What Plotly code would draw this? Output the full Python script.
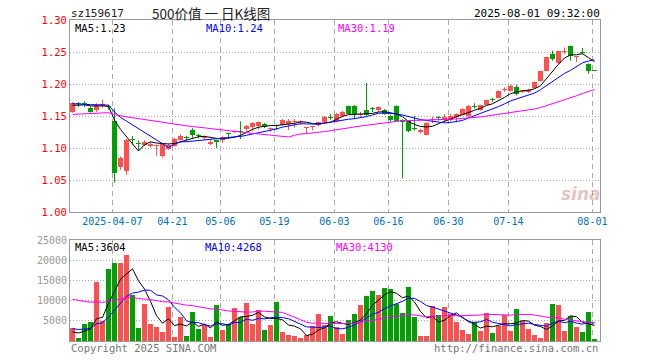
import plotly.graph_objects as go
import pandas as pd

# ---------------- data ----------------
symbol = "sz159617"
chart_title = "500价值 一 日K线图"
timestamp = "2025-08-01 09:32:00"

holidays = ["2025-04-04", "2025-05-01", "2025-05-02", "2025-05-05", "2025-06-02"]
dates = [d.strftime("%Y-%m-%d") for d in pd.bdate_range("2025-03-26", "2025-08-01")
         if d.strftime("%Y-%m-%d") not in holidays]

open_ = [1.157, 1.1695, 1.169, 1.1625, 1.159, 1.165, 1.166, 1.1416, 1.071, 1.0635,
         1.114, 1.107, 1.105, 1.103, 1.1025, 1.087, 1.099, 1.103, 1.113, 1.117,
         1.1286, 1.120, 1.116, 1.1067, 1.112, 1.112, 1.1235, 1.1245, 1.1255, 1.1297,
         1.1328, 1.1349, 1.138, 1.129, 1.1355, 1.1364, 1.137, 1.140, 1.140, 1.1305,
         1.1325, 1.136, 1.140, 1.1485, 1.1416, 1.150, 1.165, 1.166, 1.151, 1.1597,
         1.1615, 1.1588, 1.160, 1.1505, 1.165, 1.1442, 1.1416, 1.131, 1.1244, 1.1207,
         1.1445, 1.148, 1.1442, 1.1442, 1.148, 1.152, 1.150, 1.165, 1.160, 1.1676,
         1.1755, 1.178, 1.1901, 1.1895, 1.1958, 1.188, 1.1874, 1.1937, 1.2052, 1.2208,
         1.2468, 1.2328, 1.2505, 1.2599, 1.2422, 1.249, 1.2312, 1.221]
high = [1.172, 1.172, 1.173, 1.165, 1.170, 1.1755, 1.168, 1.162, 1.087, 1.1145,
        1.119, 1.112, 1.112, 1.109, 1.105, 1.108, 1.107, 1.116, 1.121, 1.119,
        1.131, 1.122, 1.119, 1.113, 1.113, 1.118, 1.1245, 1.127, 1.1416, 1.136,
        1.140, 1.1416, 1.139, 1.132, 1.137, 1.1453, 1.1453, 1.145, 1.143, 1.1315,
        1.134, 1.141, 1.150, 1.153, 1.155, 1.158, 1.166, 1.167, 1.156, 1.2015,
        1.164, 1.165, 1.161, 1.152, 1.1666, 1.145, 1.143, 1.150, 1.130, 1.140,
        1.149, 1.1495, 1.153, 1.1536, 1.154, 1.162, 1.1675, 1.170, 1.1677, 1.1755,
        1.178, 1.190, 1.1947, 1.199, 1.199, 1.1895, 1.1926, 1.204, 1.2208, 1.2427,
        1.252, 1.252, 1.257, 1.260, 1.2432, 1.2562, 1.232, 1.221]
low = [1.155, 1.164, 1.164, 1.155, 1.156, 1.1625, 1.160, 1.046, 1.066, 1.058,
       1.105, 1.097, 1.103, 1.101, 1.088, 1.085, 1.097, 1.102, 1.112, 1.112,
       1.116, 1.115, 1.113, 1.1045, 1.100, 1.108, 1.1155, 1.1235, 1.114, 1.125,
       1.127, 1.129, 1.131, 1.1255, 1.128, 1.135, 1.128, 1.132, 1.136, 1.1225,
       1.1275, 1.134, 1.139, 1.144, 1.140, 1.148, 1.153, 1.145, 1.149, 1.150,
       1.156, 1.157, 1.152, 1.141, 1.1416, 1.0526, 1.1245, 1.127, 1.1223, 1.1197,
       1.139, 1.143, 1.1416, 1.1416, 1.140, 1.151, 1.148, 1.1614, 1.158, 1.1666,
       1.172, 1.177, 1.1874, 1.1885, 1.182, 1.186, 1.186, 1.1926, 1.204, 1.2197,
       1.2364, 1.231, 1.2468, 1.2364, 1.2343, 1.2463, 1.216, 1.220]
close = [1.170, 1.168, 1.168, 1.157, 1.167, 1.169, 1.164, 1.061, 1.084, 1.113,
         1.112, 1.106, 1.110, 1.107, 1.1035, 1.106, 1.105, 1.114, 1.119, 1.116,
         1.121, 1.118, 1.117, 1.110, 1.109, 1.117, 1.1225, 1.1255, 1.1245, 1.1338,
         1.139, 1.140, 1.1325, 1.130, 1.134, 1.1442, 1.1426, 1.142, 1.1415, 1.1315,
         1.1335, 1.140, 1.149, 1.1475, 1.1536, 1.157, 1.1536, 1.152, 1.152, 1.152,
         1.161, 1.1645, 1.1536, 1.1442, 1.1426, 1.140, 1.127, 1.130, 1.1286, 1.139,
         1.1455, 1.147, 1.149, 1.1505, 1.153, 1.161, 1.166, 1.164, 1.1666, 1.1744,
         1.1745, 1.1885, 1.1911, 1.1963, 1.1843, 1.1888, 1.191, 1.2025, 1.2197, 1.2416,
         1.2395, 1.251, 1.2515, 1.2432, 1.2432, 1.248, 1.2197, 1.2205]
volume = [3330, 670, 4170, 4750, 14670, 5000, 17900, 19400, 19400, 21170,
          11400, 3170, 9170, 4170, 3420, 2170, 8420, 920, 5920, 1170,
          7170, 2920, 3920, 920, 8920, 2670, 4170, 8170, 5920, 9420,
          4170, 7670, 2670, 3920, 9670, 2170, 1420, 1170, 670, 1420,
          3670, 6670, 3920, 6170, 3420, 1670, 5170, 6670, 8920, 11170,
          12420, 11420, 13170, 12920, 9170, 6920, 13420, 5920, 1170, 1170,
          8670, 6420, 8420, 6670, 4670, 2670, 1670, 4670, 2420, 6920,
          1920, 3670, 6420, 2420, 7920, 4920, 2920, 1420, 670, 4420,
          9170, 8920, 2420, 6170, 3420, 2170, 7170, 420]

tick_dates = ["2025-04-07", "2025-04-21", "2025-05-06", "2025-05-19", "2025-06-03",
              "2025-06-16", "2025-06-30", "2025-07-14", "2025-08-01"]
tick_labels = ["2025-04-07", "04-21", "05-06", "05-19", "06-03",
               "06-16", "06-30", "07-14", "08-01"]

ma_periods = [5, 10, 30]
price_ma_start = [1.1666, 1.1692, 1.1525]   # MA values read at the first bar
vol_ma_start = [2250, 3080, 10330]
price_ma_text = ["1.23", "1.24", "1.19"]
vol_ma_text = ["3604", "4268", "4130"]

price_ticks = [1.00, 1.05, 1.10, 1.15, 1.20, 1.25, 1.30]
vol_ticks = [5000, 10000, 15000, 20000, 25000]

# ---------------- styles ----------------
UP = "#ff5050"
DOWN = "#00a000"
MA_COLORS = ["#000000", "#0000ff", "#ff00ff"]
MONO = "DejaVu Sans Mono"
GRID = "#aaaaaa"
FRAME = "#999999"

W, H = 660, 360
ML, MR, MT, MB = 70, 60, 20, 19
PW, PH = W - ML - MR, H - MT - MB


def seeded_ma(vals, n, start):
    pad = (n * start - vals[0]) / (n - 1)
    ext = [pad] * (n - 1) + list(vals)
    return [sum(ext[i:i + n]) / n for i in range(len(vals))]


idx = list(range(len(dates)))
up = [c >= o for o, c in zip(open_, close)]
colors = [UP if u else DOWN for u in up]

fig = go.Figure()

# wicks
for flag, col in [(True, UP), (False, DOWN)]:
    wx, wy = [], []
    for i in idx:
        if up[i] == flag:
            wx += [i, i, None]
            wy += [low[i], high[i], None]
    fig.add_trace(go.Scatter(x=wx, y=wy, mode="lines", line=dict(color=col, width=1),
                             hoverinfo="skip", showlegend=False, xaxis="x", yaxis="y"))

# bodies
body_base = [min(o, c) for o, c in zip(open_, close)]
body_h = [max(abs(c - o), 0.0016) for o, c in zip(open_, close)]
fig.add_trace(go.Bar(x=idx, y=body_h, base=body_base, width=5 / 6,
                     marker=dict(color=colors, line=dict(width=0)),
                     showlegend=False, xaxis="x", yaxis="y"))

# price MAs
for n, s, col in zip(ma_periods, price_ma_start, MA_COLORS):
    fig.add_trace(go.Scatter(x=idx, y=seeded_ma(close, n, s), mode="lines",
                             line=dict(color=col, width=1), showlegend=False,
                             xaxis="x", yaxis="y"))

# volume
fig.add_trace(go.Bar(x=idx, y=volume, width=5 / 6,
                     marker=dict(color=colors, line=dict(width=0)),
                     showlegend=False, xaxis="x2", yaxis="y2"))
for n, s, col in zip(ma_periods, vol_ma_start, MA_COLORS):
    fig.add_trace(go.Scatter(x=idx, y=seeded_ma(volume, n, s), mode="lines",
                             line=dict(color=col, width=1), showlegend=False,
                             xaxis="x2", yaxis="y2"))

tickpos = [dates.index(d) - 0.35 for d in tick_dates]
xr = [-2.5 / 6, -2.5 / 6 + PW / 6]

xcommon = dict(range=xr, tickmode="array", tickvals=tickpos, showgrid=True,
               gridcolor=GRID, griddash="5px,4px", gridwidth=1, zeroline=False,
               showline=True, mirror=True, linecolor=FRAME, linewidth=1, ticks="")

price_dom = [1 - 192 / PH, 1]
vol_dom = [0, 1 - 220 / PH]

fig.update_layout(
    width=W, height=H, margin=dict(l=ML, r=MR, t=MT, b=MB, autoexpand=False),
    paper_bgcolor="white", plot_bgcolor="white", barmode="overlay",
    showlegend=False, bargap=0,
    xaxis=dict(**xcommon, ticktext=tick_labels, showticklabels=True,
               tickfont=dict(family=MONO, size=10, color="#0070c0"), anchor="y"),
    yaxis=dict(domain=price_dom, range=[1.00, 1.30], tickmode="array",
               tickvals=price_ticks, ticktext=[f"{v:.2f}" for v in price_ticks],
               tickfont=dict(family=MONO, size=10.5, color="#ff0000"),
               showgrid=True, gridcolor=GRID, griddash="1px,2px", gridwidth=1,
               zeroline=False, showline=True, mirror=True, linecolor=FRAME,
               linewidth=1, ticks="", anchor="x"),
    xaxis2=dict(**xcommon, showticklabels=False, anchor="y2", matches="x"),
    yaxis2=dict(domain=vol_dom, range=[0, 25000], tickmode="array",
                tickvals=vol_ticks, ticktext=[str(v) for v in vol_ticks],
                tickfont=dict(family=MONO, size=10, color="#999999"),
                showgrid=True, gridcolor=GRID, griddash="1px,2px", gridwidth=1,
                zeroline=False, showline=True, mirror=True, linecolor=FRAME,
                linewidth=1, ticks="", anchor="x2"),
)


def px(x):
    return (x - ML) / PW


def py(y):
    return (H - MB - y) / PH


ann = []


def add_text(text, x, y, anchor, color, size, family=MONO, **kw):
    ann.append(dict(text=text, x=px(x), y=py(y), xref="paper", yref="paper",
                    xanchor=anchor, yanchor="middle", showarrow=False,
                    font=dict(family=family, size=size, color=color), **kw))


add_text(symbol, 69, 13, "left", "#222222", 11)
add_text(chart_title.replace(" ", "\u00a0"), 150, 13, "left", "#222222", 13.5,
         family="Noto Sans CJK SC")
add_text(timestamp, 602, 13, "right", "#000000", 11)

price_x = [73, 204, 336]
vol_x = [73, 203, 334]
for i, n in enumerate(ma_periods):
    add_text(f"MA{n}:{price_ma_text[i]}", price_x[i], 28, "left", MA_COLORS[i], 10.5)
    add_text(f"MA{n}:{vol_ma_text[i]}", vol_x[i], 247, "left", MA_COLORS[i], 10.5)

add_text("Copyright 2025 SINA.COM", 69, 348, "left", "#777777", 10.5)
add_text("http://finance.sina.com.cn", 600, 348, "right", "#777777", 10.5)
add_text("<b><i>sina</i></b>", 581, 194, "center", "rgba(200,120,120,0.45)", 17,
         family="DejaVu Sans")

fig.update_layout(annotations=ann)

# remove the default 8px page margin so the figure fills the 660x360 window
fig.write_html("out.html", config={"staticPlot": True, "displayModeBar": False},
               post_script="document.body.style.margin='0';")
